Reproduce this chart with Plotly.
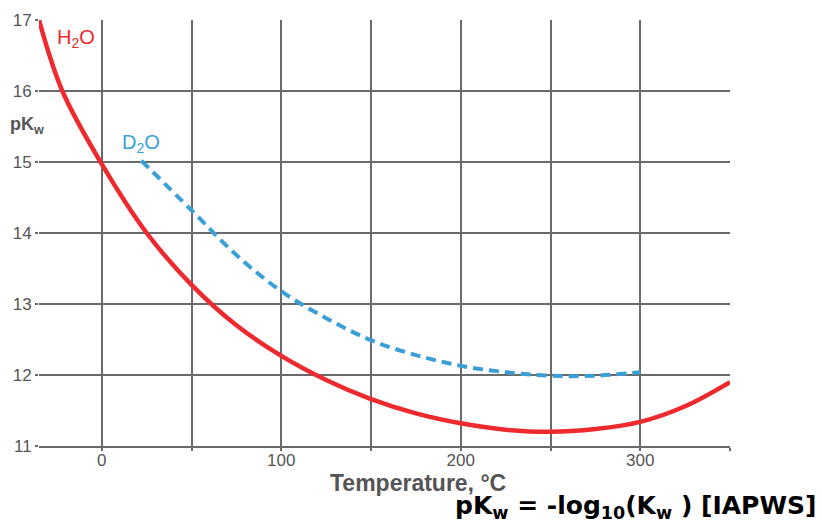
import plotly.graph_objects as go

h2o_t = [-35, -22, 0, 25, 50, 75, 100, 125, 150, 175, 200, 225, 250, 275, 300, 325, 350]
h2o_pk = [17.0, 16.0, 14.97, 14.0, 13.27, 12.70, 12.27, 11.93, 11.66, 11.46, 11.32, 11.23, 11.20, 11.24, 11.34, 11.56, 11.90]

d2o_t = [22, 50, 75, 100, 125, 150, 175, 200, 225, 250, 275, 300]
d2o_pk = [15.02, 14.32, 13.69, 13.18, 12.80, 12.49, 12.28, 12.13, 12.04, 11.99, 11.99, 12.04]

x_ticks = [0, 50, 100, 150, 200, 250, 300, 350]
x_tick_labels = ["0", "", "100", "", "200", "", "300", ""]
y_ticks = [11, 12, 13, 14, 15, 16, 17]

RED = "#ee2a2e"
BLUE = "#3a9fd6"
GRID = "#6a6a6a"
TXT = "#555555"

fig = go.Figure()
fig.add_trace(go.Scatter(x=h2o_t, y=h2o_pk, mode="lines", line=dict(color=RED, width=4.5, shape="spline"),
                         showlegend=False, hoverinfo="skip"))
fig.add_trace(go.Scatter(x=d2o_t, y=d2o_pk, mode="lines",
                         line=dict(color=BLUE, width=4, dash="10px,6px", shape="spline"),
                         showlegend=False, hoverinfo="skip"))

pl, pr, pt, pb = 39, 730, 20, 446

fig.update_layout(
    width=822, height=527,
    margin=dict(l=pl, r=822 - pr, t=pt, b=527 - pb, autoexpand=False),
    paper_bgcolor="white", plot_bgcolor="white",
    font=dict(family="Liberation Sans, Arial, sans-serif", color=TXT, size=17),
    xaxis=dict(range=[-35, 350], tickvals=x_ticks, ticktext=x_tick_labels, automargin=False,
               showgrid=True, gridcolor=GRID, gridwidth=1.5,
               ticks="outside", ticklen=3, tickcolor=GRID, tickwidth=1.5,
               ticklabelstandoff=-5,
               showline=True, linecolor=GRID, linewidth=1.5,
               zeroline=False, tickfont=dict(size=17, color=TXT)),
    yaxis=dict(range=[11, 17], tickvals=y_ticks, automargin=False,
               showgrid=True, gridcolor=GRID, gridwidth=1.5,
               ticks="outside", ticklen=3, tickcolor=GRID, tickwidth=1.5,
               showline=False, zeroline=False,
               tickfont=dict(size=17, color=TXT)),
    annotations=[
        dict(x=-26, y=16.74, xref="x", yref="y", text="H<sub>2</sub>O", showarrow=False,
             font=dict(size=20, color=RED), xanchor="left", yanchor="middle"),
        dict(x=22, y=15.26, xref="x", yref="y", text="D<sub>2</sub>O", showarrow=False,
             font=dict(size=20, color=BLUE), xanchor="center", yanchor="middle"),
        dict(x=27, y=125, text="<b>pK<sub>w</sub></b>", showarrow=False,
             font=dict(size=18, color=TXT)),
        dict(x=418, y=483, text="<b>Temperature, °C</b>", showarrow=False,
             font=dict(size=23, color=TXT)),
        dict(x=635, y=507, text="<b>pK<sub>w</sub> = -log<sub>10</sub>(K<sub>w</sub> ) [IAPWS]</b>", showarrow=False,
             font=dict(size=25, color="black", family="DejaVu Sans, Verdana, sans-serif")),
    ],
)

# convert pixel-positioned annotations to paper coordinates
for a in fig.layout.annotations[2:]:
    px, py = a.x, a.y
    a.xref = "paper"; a.yref = "paper"
    a.xanchor = "center"; a.yanchor = "middle"
    a.x = (px - pl) / (pr - pl)
    a.y = (pb - py) / (pb - pt)

fig.write_html("out.html", config={"displayModeBar": False},
               post_script="document.body.style.margin='0';document.body.style.overflow='hidden';")
